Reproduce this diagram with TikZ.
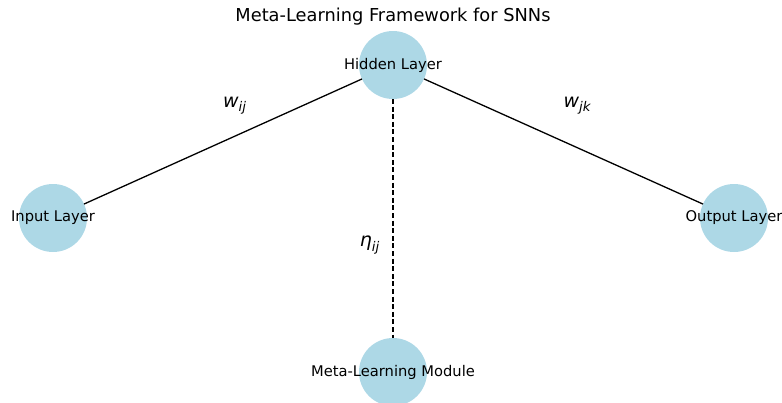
\documentclass[tikz,border=0pt]{standalone}
\usepackage{fontspec}
\setmainfont{DejaVu Sans}
\definecolor{nodeblue}{HTML}{ADD8E6}
\newcommand{\mysub}[1]{\raisebox{-0.22em}{\fontsize{13.3}{14}\selectfont\itshape #1}}
\tikzset{
  layer/.style={circle, fill=nodeblue, minimum size=68pt, inner sep=0pt, outer sep=0pt},
  layertext/.style={font=\fontsize{14.7}{16}\selectfont, text=black, inner sep=0pt},
  edgelabel/.style={font=\fontsize{19}{21}\selectfont\itshape, text=black, inner sep=0pt},
  conn/.style={draw=black, line width=1.3pt},
  metaconn/.style={conn, dash pattern=on 5pt off 2.6pt},
}
\begin{document}
\begin{tikzpicture}[x=1pt, y=-1pt]
\useasboundingbox (0,0) rectangle (782,402);
\clip (0,0) rectangle (782,402);
% nodes
\node[layer] (hid) at (393,65) {};
\node[layer] (inp) at (53,218) {};
\node[layer] (out) at (734,218) {};
\node[layer] (meta) at (393,372) {};
% connectors
\draw[conn] (hid) -- (inp);
\draw[conn] (hid) -- (out);
\draw[metaconn] (hid) -- (meta);
% texts
\node[layertext] (hidt) at (393,65) {Hidden Layer};
\node[layertext] (inpt) at (53,218) {Input Layer};
\node[layertext] (outt) at (734,218) {Output Layer};
\node[layertext] (metat) at (393,372) {Meta-Learning Module};
\node[font=\fontsize{17.8}{20}\selectfont, text=black, inner sep=0pt] (title) at (393,17) {Meta-Learning Framework for SNNs};
\node[edgelabel] (wij) at (234.5,106) {w\mysub{ij}};
\node[edgelabel] (wjk) at (577,106) {w\mysub{jk}};
\node[edgelabel] (eta) at (369.5,245) {η\mysub{ij}};
\end{tikzpicture}
\end{document}
